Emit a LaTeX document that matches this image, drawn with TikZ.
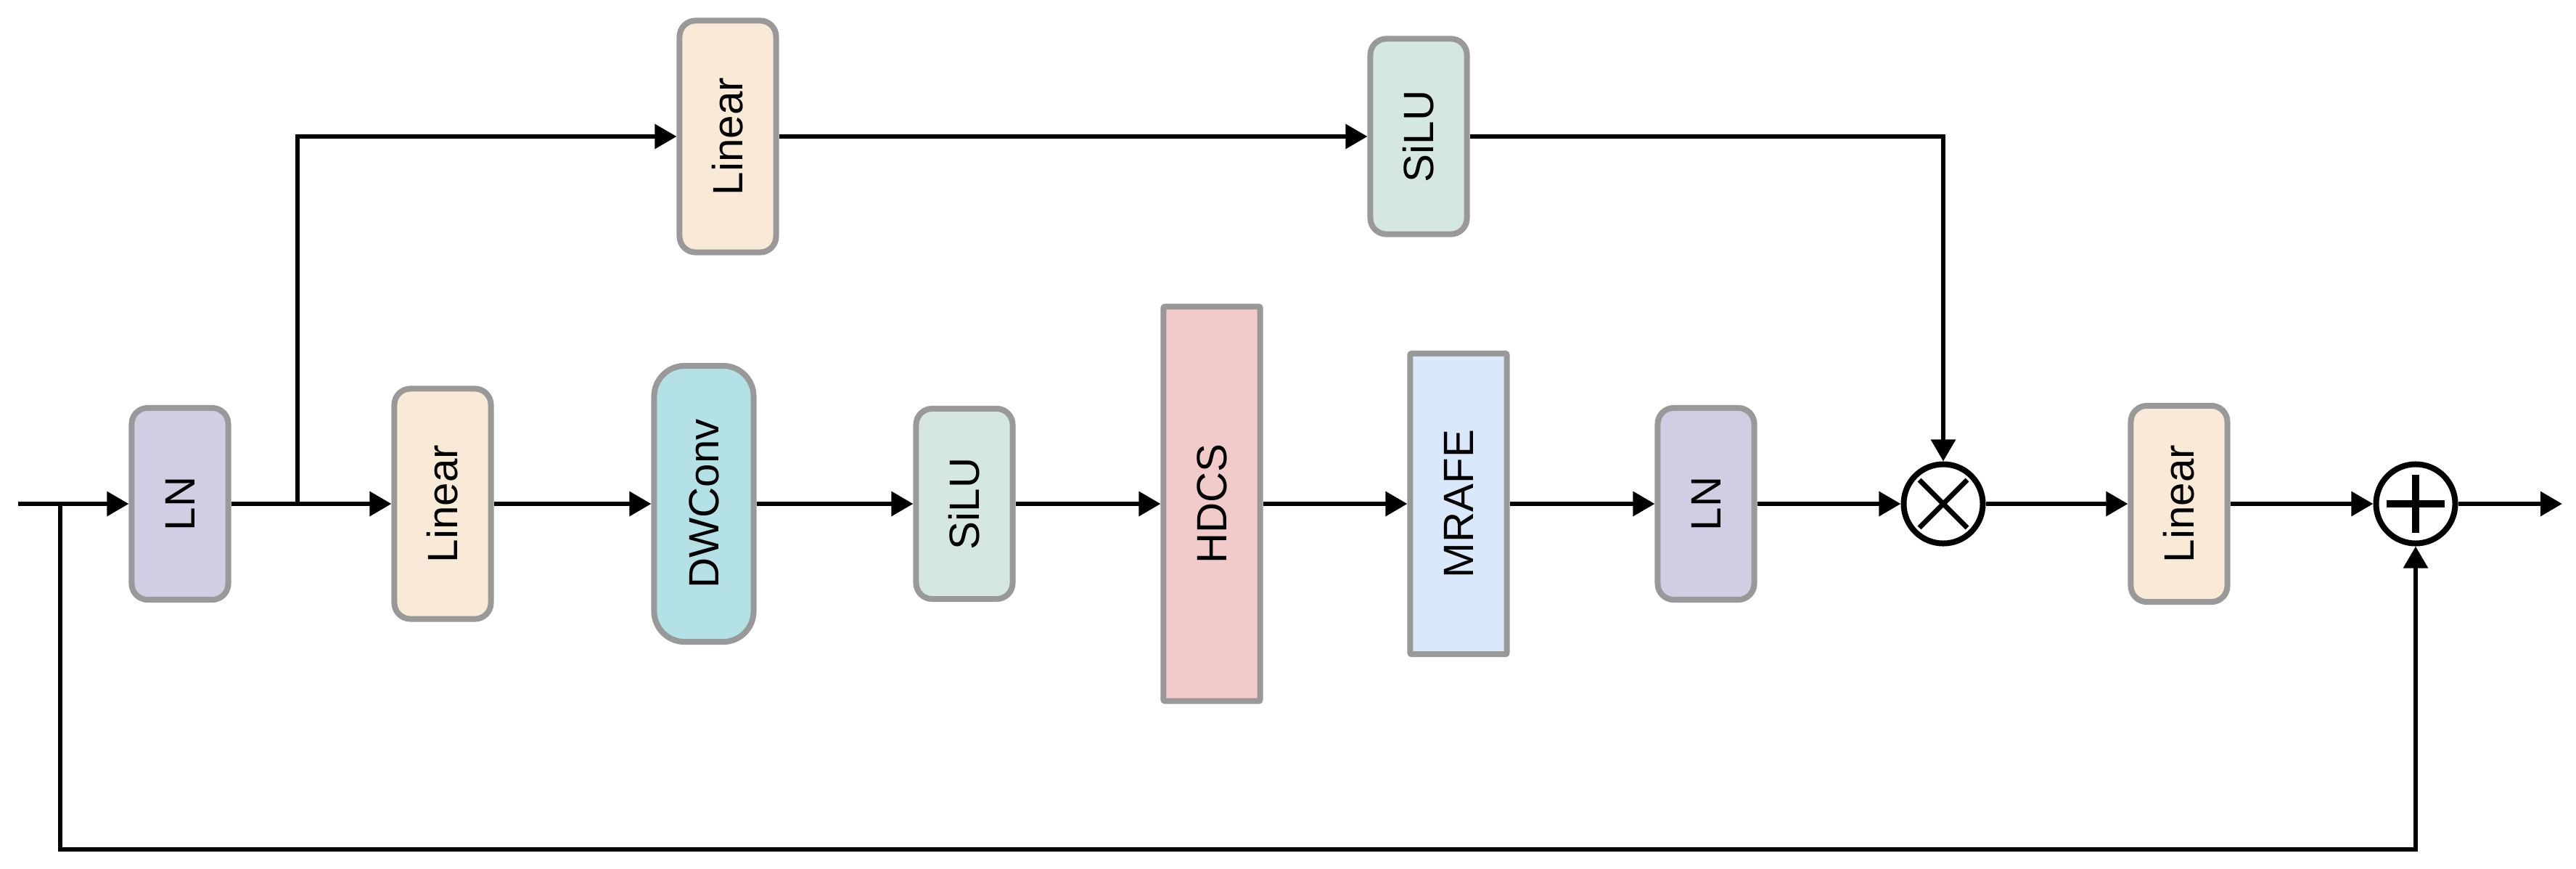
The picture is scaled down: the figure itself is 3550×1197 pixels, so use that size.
\documentclass[tikz,border=0pt]{standalone}
\usepackage{fontspec}
\setmainfont{Liberation Sans}
\usepackage{graphicx}
\usepackage{xcolor}
\usetikzlibrary{arrows.meta,calc}
\definecolor{lnfill}{HTML}{D0CEE2}
\definecolor{linfill}{HTML}{F9EAD7}
\definecolor{convfill}{HTML}{B3E1E5}
\definecolor{silufill}{HTML}{D5E8E0}
\definecolor{hdcsfill}{HTML}{F0CBCA}
\definecolor{mrafefill}{HTML}{DAE8FC}
\tikzstyle{block}=[draw=black!40, line width=0.08cm, rounded corners=0.22cm, minimum width=1.33cm, inner sep=0pt, font=\fontsize{16.6pt}{19pt}\selectfont]
\tikzstyle{lnbox}=[block, fill=lnfill, minimum height=2.64cm]
\tikzstyle{linbox}=[block, fill=linfill, minimum height=3.17cm]
\tikzstyle{silubox}=[block, fill=silufill, minimum height=2.62cm]
\tikzstyle{convbox}=[block, fill=convfill, minimum height=3.80cm, minimum width=1.37cm, rounded corners=0.42cm]
\tikzstyle{hdcsbox}=[block, fill=hdcsfill, minimum height=5.43cm, rounded corners=0.02cm]
\tikzstyle{mrafebox}=[block, fill=mrafefill, minimum height=4.14cm, rounded corners=0.02cm]
\tikzstyle{opnode}=[circle, draw=black, fill=white, line width=0.08cm, minimum size=1.09cm, inner sep=0pt]
\tikzstyle{arr}=[-{Triangle[length=0.3cm,width=0.33cm]}, line width=0.06cm]
\newcommand{\vtext}[1]{\rotatebox{90}{#1}}

\begin{document}
\begin{tikzpicture}[x=0.01cm, y=-0.01cm]
	\useasboundingbox (0,0) rectangle (3550,1197);
	\node[lnbox] (ln1) at (248,694) {\vtext{LN}};
	\node[linbox] (lin1) at (610,694) {\vtext{Linear}};
	\node[convbox] (dwc) at (970,694) {\vtext{DWConv}};
	\node[silubox] (silu1) at (1329,694) {\vtext{SiLU}};
	\node[hdcsbox] (hdcs) at (1670,694) {\vtext{HDCS}};
	\node[mrafebox] (mrafe) at (2010,694) {\vtext{MRAFE}};
	\node[lnbox] (ln2) at (2351,694) {\vtext{LN}};
	\node[opnode] (mul) at (2678,694) {};
	\node[linbox, minimum height=2.70cm] (lin3) at (3003,694) {\vtext{Linear}};
	\node[opnode] (add) at (3329,694) {};
	\node[linbox, minimum height=3.19cm] (lin2) at (1003,188) {\vtext{Linear}};
	\node[silubox, minimum height=2.69cm] (silu2) at (1955,188) {\vtext{SiLU}};
	\draw[line width=0.07cm] ($(mul)+(-33,-33)$) -- ($(mul)+(33,33)$) ($(mul)+(-33,33)$) -- ($(mul)+(33,-33)$);
	\draw[line width=0.1cm] ($(add)+(-40,0)$) -- ($(add)+(40,0)$) ($(add)+(0,-40)$) -- ($(add)+(0,40)$);
	\coordinate (in) at (25,694);
	\coordinate (tap) at (83,694);
	\coordinate (br) at (410,694);
	\coordinate (fb) at (83,1170);
	\coordinate (out) at (3531,694);
	\draw[arr] (in) -- (ln1);
	\draw[arr] (ln1) -- (lin1);
	\draw[arr] (lin1) -- (dwc);
	\draw[arr] (dwc) -- (silu1);
	\draw[arr] (silu1) -- (hdcs);
	\draw[arr] (hdcs) -- (mrafe);
	\draw[arr] (mrafe) -- (ln2);
	\draw[arr] (ln2) -- (mul);
	\draw[arr] (mul) -- (lin3);
	\draw[arr] (lin3) -- (add);
	\draw[arr] (add) -- (out);
	\draw[arr] (br) |- (lin2);
	\draw[arr] (lin2) -- (silu2);
	\draw[arr] (silu2) -| (mul);
	\draw[arr] (tap) -- (fb) -| (add);
\end{tikzpicture}
\end{document}
